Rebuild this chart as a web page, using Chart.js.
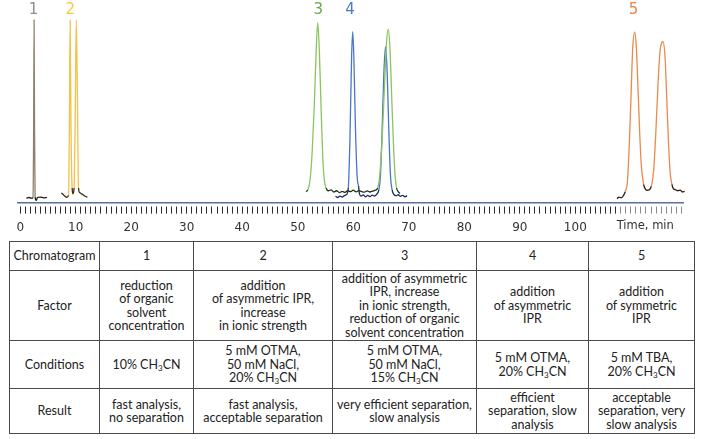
<!DOCTYPE html>
<html><head><meta charset="utf-8">
<script src="https://cdn.jsdelivr.net/npm/chart.js@4.4.1/dist/chart.umd.min.js"></script>
<style>
html,body{margin:0;padding:0;background:#fff;}
#wrap{position:absolute;left:0;top:0;width:708px;height:250px;}
#tbl{position:absolute;left:9px;top:241px;border-collapse:collapse;table-layout:fixed;width:685px;
 font-family:Lato,"Noto Sans",sans-serif;font-size:12.5px;line-height:13.5px;color:#222;background:#fff;}
#tbl td{border:1px solid #4a4a4a;text-align:center;vertical-align:middle;padding:0;}
#tbl sub{font-size:8px;line-height:0;vertical-align:-2px;}
</style></head><body>
<div id="wrap"><canvas id="c" width="708" height="250"></canvas></div>
<table id="tbl"><colgroup><col style="width:90px"><col style="width:94px"><col style="width:139px"><col style="width:144px"><col style="width:112px"><col style="width:106px"></colgroup><tbody id="tb"></tbody></table>
<script>
// ---- data (time in min, signal in relative units 0-100) ----
const trace1 = [[1.1,2.5],[1.6,2.8],[2.0,2.4],[2.3,2.9],[2.42,40],[2.5,100],[2.58,40],[2.68,3],[2.9,1.2],[3.1,2.8],[3.6,3.0],[4.2,2.6],[4.8,2.9]];
const trace2 = [[7.4,5.3],[7.8,4.2],[8.1,3.4],[8.4,2.9],[8.7,4],[8.85,40],[9.0,100],[9.15,40],[9.35,8],[9.5,4.8],[9.7,8],[9.9,45],[10.1,100],[10.3,60],[10.5,8],[10.7,5.5],[11.2,4.5],[11.7,3.5],[12.1,3.0]];
const trace3 = [[51.5,6],[51.8,7],[52.2,12],[52.6,28],[53.0,55],[53.3,82],[53.6,98.5],[53.9,82],[54.2,52],[54.5,25],[54.8,12],[55.1,8],[55.5,6.5],[56,7],[56.5,5.8],[57,6.5],[57.5,5.5],[58,6.2],[58.5,5.6],[59,6.5],[59.5,6],[60,6.8],[60.5,5.9],[61,6.6],[61.5,6],[62,5.7],[62.5,6.4],[63,5.8],[63.5,6.3],[64,6.8],[64.4,8],[64.8,16],[65.2,35],[65.6,62],[66.0,88],[66.3,95],[66.6,85],[66.9,60],[67.2,35],[67.5,16],[67.8,8],[68.1,6],[68.4,5]];
const trace4 = [[56.8,3.5],[57.2,2.8],[57.6,3.6],[58.0,3.0],[58.4,3.8],[58.8,4.5],[59.1,8],[59.4,35],[59.7,80],[59.9,93.6],[60.1,80],[60.4,40],[60.7,14],[60.95,9],[61.1,5],[61.4,3.5],[61.8,4.2],[62.2,3.1],[62.6,4.0],[63.0,3.3],[63.4,4.1],[63.8,3.6],[64.2,4.5],[64.6,7],[64.9,15],[65.2,40],[65.5,70],[65.8,85.4],[66.1,72],[66.4,40],[66.7,15],[67.0,7],[67.3,4.5],[67.7,3.8],[68.1,4.3],[68.5,3.4],[68.9,4.0],[69.3,3.2],[69.7,3.8]];
const trace5 = [[107.5,2.2],[107.9,3.0],[108.3,2.6],[108.7,4],[109.0,6],[109.4,12],[109.7,30],[110.0,55],[110.35,85],[110.7,93.3],[111.0,85],[111.3,62],[111.6,38],[111.9,20],[112.3,10],[112.6,7.5],[112.9,6.7],[113.3,7],[113.7,9],[114.1,17],[114.5,38],[114.9,65],[115.3,84],[115.8,88.1],[116.2,78],[116.5,55],[116.8,32],[117.1,16],[117.4,10],[117.7,7.5],[118.1,7],[118.5,6.5],[118.9,6.8],[119.3,5.8],[119.7,6.2],[120.1,4.5],[120.5,5]];
const traceNames = ['1','2','3','4','5'];
const traceLabelTimes = [2.4, 9.0, 53.7, 59.4, 110.5];
const traceColors = ['#8c826a','#f4c14a','#8cc45e','#4a76c8','#e98a4e'];
const baseColors  = ['#1a1a1a','#3a2a10','#1d3212','#1b2a55','#2a1a10'];
const labelColors = ['#8f8f8f','#fbc93a','#6aa84f','#4a7bd0','#f08040'];
const majorTicks = [0,10,20,30,40,50,60,70,80,90,100];
const axisTitle = 'Time, min';

// ---- table ----
const tableHead = ['Chromatogram','1','2','3','4','5'];
const rowFactor = ['Factor','reduction<br>of organic<br>solvent<br>concentration','addition<br>of asymmetric IPR,<br>increase<br>in ionic strength','addition of asymmetric<br>IPR, increase<br>in ionic strength,<br>reduction of organic<br>solvent concentration','addition<br>of asymmetric<br>IPR','addition<br>of symmetric<br>IPR'];
const rowConditions = ['Conditions','10% CH<sub>3</sub>CN','5 mM OTMA,<br>50 mM NaCl,<br>20% CH<sub>3</sub>CN','5 mM OTMA,<br>50 mM NaCl,<br>15% CH<sub>3</sub>CN','5 mM OTMA,<br>20% CH<sub>3</sub>CN','5 mM TBA,<br>20% CH<sub>3</sub>CN'];
const rowResult = ['Result','fast analysis,<br>no separation','fast analysis,<br>acceptable separation','very efficient separation,<br>slow analysis','efficient<br>separation, slow<br>analysis','acceptable<br>separation, very<br>slow analysis'];
const rowHeights = [29,70,48,45];

const tb = document.getElementById('tb');
[tableHead,rowFactor,rowConditions,rowResult].forEach((r,i)=>{
  const tr=document.createElement('tr'); tr.style.height=rowHeights[i]+'px';
  r.forEach(c=>{const td=document.createElement('td'); td.innerHTML=c; tr.appendChild(td);});
  tb.appendChild(tr);
});

const traces=[trace1,trace2,trace3,trace4,trace5];
const datasets = traces.map((t,i)=>({
  data: t.map(p=>({x:p[0],y:p[1]})),
  borderColor: traceColors[i],
  borderWidth: 1.3,
  pointRadius: 0,
  fill: false,
  cubicInterpolationMode: 'monotone',
  clip: false,
  segment: { borderColor: ctx => (ctx.p0.parsed.y < 11 && ctx.p1.parsed.y < 11) ? baseColors[i] : traceColors[i] }
}));

const labelsPlugin = {
  id:'labels',
  afterDraw(chart){
    const ctx=chart.ctx, xs=chart.scales.x;
    ctx.save();
    ctx.font='15px "DejaVu Sans"'; ctx.textAlign='center'; ctx.textBaseline='middle';
    traceNames.forEach((n,i)=>{ ctx.fillStyle=labelColors[i]; ctx.fillText(n, xs.getPixelForValue(traceLabelTimes[i]), 10); });
    ctx.font='11.5px "DejaVu Sans"'; ctx.fillStyle='#333';
    ctx.fillText(axisTitle, xs.getPixelForValue(112.6), 226.5);
    ctx.restore();
  }
};

new Chart(document.getElementById('c'), {
  type:'line',
  data:{datasets},
  options:{
    responsive:false, animation:false, events:[],
    layout:{padding:{left:18,right:25,top:20,bottom:8}},
    plugins:{legend:{display:false},tooltip:{enabled:false}},
    scales:{
      x:{type:'linear',min:-0.4,max:119.4,
        afterBuildTicks(s){ const a=[]; for(let k=0;k*10/11<=119.4;k++) a.push({value:k*10/11}); s.ticks=a; },
        border:{display:true,color:'#5c6e96',width:1.5},
        grid:{drawOnChartArea:false,drawTicks:true,tickLength:11,tickBorderDash:[0,3,8,50],
          tickColor: c => (c.tick && c.tick.value>107.5) ? '#8a8a8a' : '#2b2b2b', tickWidth:1},
        ticks:{autoSkip:false,maxRotation:0,padding:7,color:'#333',font:{family:'DejaVu Sans',size:12},
          callback:(v)=>{ const r=Math.round(v/10)*10; return (Math.abs(v-r)<1e-6 && majorTicks.includes(r)) ? String(r) : ''; }}
      },
      y:{display:false,min:0,max:100}
    }
  },
  plugins:[labelsPlugin]
});
</script></body></html>
